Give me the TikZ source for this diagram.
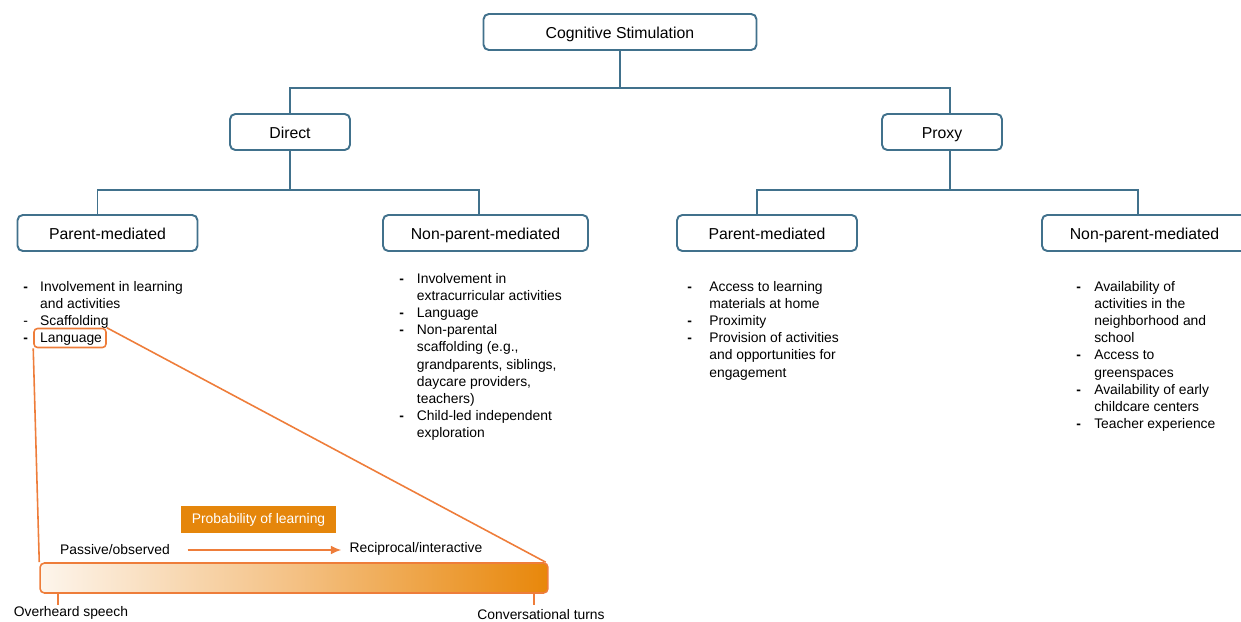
\documentclass[tikz,border=0pt]{standalone}
\usepackage{fontspec}
\setmainfont{Liberation Sans}
\usepackage{tikz}
\usetikzlibrary{positioning,arrows.meta,calc}

\definecolor{boxblue}{HTML}{41718C}
\definecolor{zoomorange}{HTML}{EE7D3A}
\definecolor{probfill}{HTML}{E5860B}
\definecolor{barleft}{HTML}{FDF5EC}
\definecolor{barmid}{HTML}{F4C184}
\definecolor{barright}{HTML}{E8870A}

\tikzset{
  catbox/.style={draw=boxblue, line width=1.1pt, rounded corners=3pt, fill=white,
    minimum height=0.72cm, inner sep=0pt, text height=8pt, text depth=1.1pt,
    font=\fontsize{9}{11}\selectfont},
  conn/.style={draw=boxblue, line width=1.1pt},
  itemlist/.style={inner sep=0pt, anchor=base west, font=\fontsize{7.9}{9.8}\selectfont},
  zoomline/.style={draw=zoomorange, line width=0.9pt},
  plaintext/.style={inner sep=0pt, font=\fontsize{7.9}{9.8}\selectfont}
}

\begin{document}
\begin{tikzpicture}[x=0.02cm, y=-0.02cm]
                \clip (0,0) rectangle (1241,622);
                % hierarchy boxes
                \node[catbox, minimum width=5.46cm] (cog) at (620,32) {Cognitive Stimulation};
                \node[catbox, minimum width=2.4cm] (direct) at (290,132) {Direct};
                \node[catbox, minimum width=2.4cm] (proxy) at (942,132) {Proxy};
                \node[catbox, minimum width=3.6cm] (dpm) at (107.5,233) {Parent-mediated};
                \node[catbox, minimum width=4.1cm] (dnpm) at (485.5,233) {Non-parent-mediated};
                \node[catbox, minimum width=3.6cm] (ppm) at (767,233) {Parent-mediated};
                \node[catbox, minimum width=4.1cm] (pnpm) at (1144.5,233) {Non-parent-mediated};
                % connectors
                \draw[conn] (cog.south) -- ++(0,37) coordinate (cogj);
                \draw[conn] (direct.north) |- (cogj) -| ($(proxy.north)+(8,0)$);
                \draw[conn] (direct.south) -- ++(0,39) coordinate (directj);
                \draw[conn] ($(dpm.north)+(-10,0)$) |- (directj) -| ($(dnpm.north)+(-6.5,0)$);
                \draw[conn] ($(proxy.south)+(8,0)$) -- ++(0,39) coordinate (proxyj);
                \draw[conn] ($(ppm.north)+(-10,0)$) |- (proxyj) -| ($(pnpm.north)+(-6.5,0)$);
                % item lists
                \node[itemlist] (dpmlist) at (23,291) {\begin{tabular}[t]{@{}p{9.6pt}@{}l@{}}
                  \textbf{-} & Involvement in learning\\
                  & and activities\\
                  - & Scaffolding\\
                  \textbf{-} & Language
                \end{tabular}};
                \node[itemlist] (dnpmlist) at (399,283) {\begin{tabular}[t]{@{}p{10pt}@{}l@{}}
                  \textbf{-} & Involvement in\\
                  & extracurricular activities\\
                  \textbf{-} & Language\\
                  \textbf{-} & Non-parental\\
                  & scaffolding (e.g.,\\
                  & grandparents, siblings,\\
                  & daycare providers,\\
                  & teachers)\\
                  \textbf{-} & Child-led independent\\
                  & exploration
                \end{tabular}};
                \node[itemlist] (ppmlist) at (687,291) {\begin{tabular}[t]{@{}p{12.5pt}@{}l@{}}
                  \textbf{-} & Access to learning\\
                  & materials at home\\
                  \textbf{-} & Proximity\\
                  \textbf{-} & Provision of activities\\
                  & and opportunities for\\
                  & engagement
                \end{tabular}};
                \node[itemlist] (pnpmlist) at (1076,291) {\begin{tabular}[t]{@{}p{10.2pt}@{}l@{}}
                  \textbf{-} & Availability of\\
                  & activities in the\\
                  & neighborhood and\\
                  & school\\
                  \textbf{-} & Access to\\
                  & greenspaces\\
                  \textbf{-} & Availability of early\\
                  & childcare centers\\
                  \textbf{-} & Teacher experience
                \end{tabular}};
                % zoom onto language
                \node[draw=zoomorange, line width=0.9pt, rounded corners=2pt, minimum width=1.44cm,
                  minimum height=0.38cm, inner sep=0pt] (langbox) at (70,338) {};
                \node[draw=zoomorange, line width=0.9pt, rounded corners=2.5pt, minimum width=10.16cm,
                  minimum height=0.6cm, inner sep=0pt, left color=barleft, right color=barright,
                  middle color=barmid] (bar) at (294,578) {};
                \draw[zoomline] (langbox.south west) -- (bar.north west);
                \draw[zoomline] (langbox.north east) -- ($(bar.north east)+(-3,0)$);
                \node[fill=probfill, text=white, minimum width=3.1cm, minimum height=0.54cm, inner sep=0pt,
                  font=\fontsize{7.9}{9.8}\selectfont] (prob) at (258.5,519.5) {Probability of learning};
                \node[plaintext] (passive) at (115,550) {Passive/observed};
                \node[plaintext] (recip) at (416,549) {Reciprocal/interactive};
                \draw[zoomline, -{Latex[length=6pt,width=5pt]}, shorten <=10pt, shorten >=4.5pt]
                  (passive.east) -- (recip.west |- passive.east);
                \node[plaintext] (overheard) at (71,613) {Overheard speech};
                \node[plaintext] (turns) at (541,614.5) {Conversational turns};
                \draw[zoomline] ($(bar.south west)+(19,0)$) -- ++(0,11);
                \draw[zoomline] ($(bar.south east)+(-15,0)$) -- ++(0,11);
            \end{tikzpicture}
\end{document}
